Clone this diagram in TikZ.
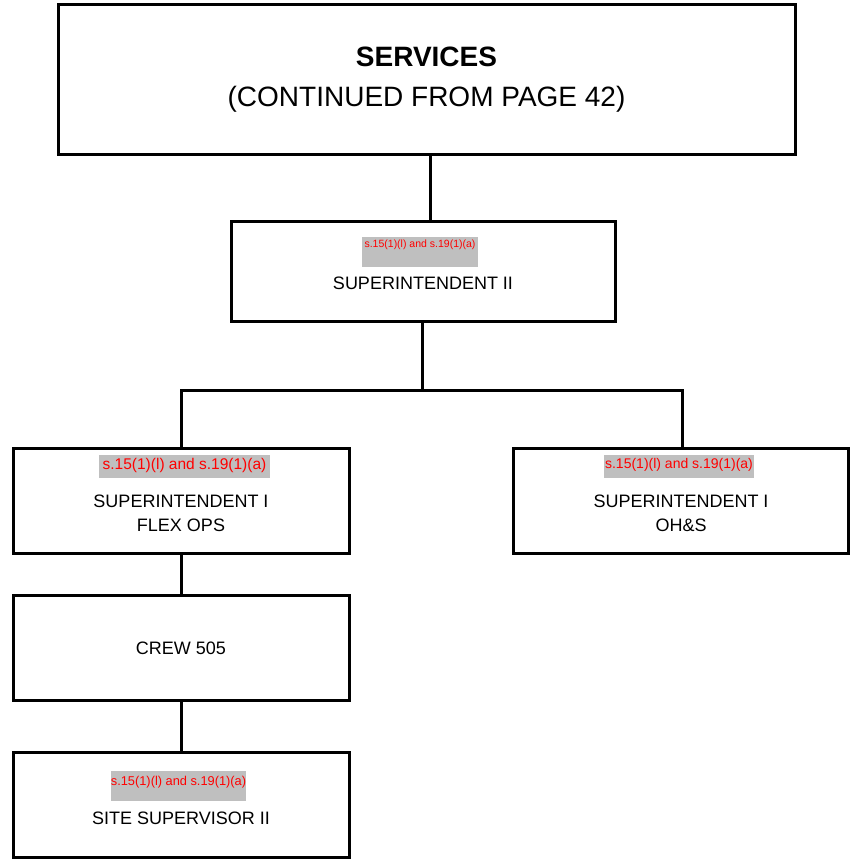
\documentclass[tikz,border=0pt]{standalone}
\usepackage{fontspec}
\setmainfont{Liberation Sans}
\begin{document}
\begin{tikzpicture}[x=1pt,y=-1pt,
  boxst/.style={draw=black, line width=3pt},
  conn/.style={draw=black, line width=3pt},
  lbl/.style={font=\fontsize{18}{24}\selectfont, align=center, inner sep=0pt},
  redbg/.style={fill=black!25, inner sep=0pt},
  redtx/.style={text=red, inner sep=0pt}]
\useasboundingbox (0,0) rectangle (849,861);
% boxes
\draw[boxst] (58,5) rectangle (795,155);
\node[lbl, font=\fontsize{28}{40}\selectfont] (title) at (426.5,80) {\textbf{SERVICES}\\(CONTINUED FROM PAGE 42)};
\coordinate (topB) at (430,155);

\draw[boxst] (231,221) rectangle (615,321);
\coordinate (s2T) at (430,221);
\coordinate (s2B) at (422,321);
\node[redbg, minimum width=116pt, minimum height=30pt, anchor=north] (r1) at (420,237) {};
\node[redtx, font=\fontsize{10.5}{11}\selectfont] (r1t) at (420,245) {s.15(1)(l) and s.19(1)(a)};
\node[lbl] (s2) at (423,283) {SUPERINTENDENT II};

\draw[boxst] (13,448) rectangle (349,553);
\coordinate (l1T) at (181,448);
\coordinate (l1B) at (181,553);
\node[redbg, minimum width=171pt, minimum height=23pt, anchor=north] (r2) at (184.5,455) {};
\node[redtx, font=\fontsize{15.5}{16}\selectfont] (r2t) at (184.5,465) {s.15(1)(l) and s.19(1)(a)};
\node[lbl] (l1) at (181,513) {SUPERINTENDENT I\\FLEX OPS};

\draw[boxst] (513,448) rectangle (848,553);
\coordinate (r1T) at (682,448);
\node[redbg, minimum width=150pt, minimum height=23pt, anchor=north] (r3) at (679,455) {};
\node[redtx, font=\fontsize{14}{15}\selectfont] (r3t) at (679,465) {s.15(1)(l) and s.19(1)(a)};
\node[lbl] (rr) at (681,513) {SUPERINTENDENT I\\OH\&S};

\draw[boxst] (13,595) rectangle (349,700);
\coordinate (cT) at (181,595);
\coordinate (cB) at (181,700);
\node[lbl] (crew) at (181,648) {CREW 505};

\draw[boxst] (13,752) rectangle (349,857);
\coordinate (sT) at (181,752);
\node[redbg, minimum width=135pt, minimum height=30pt, anchor=north] (r4) at (178.5,771) {};
\node[redtx, font=\fontsize{12.8}{13}\selectfont] (r4t) at (178.5,782) {s.15(1)(l) and s.19(1)(a)};
\node[lbl] (site) at (181,818) {SITE SUPERVISOR II};

% connectors
\coordinate (bus) at (422,390);
\coordinate (busL) at (181,390);
\coordinate (busR) at (682,390);
\draw[conn] (topB) -- (s2T);
\draw[conn] (s2B) -- (bus);
\draw[conn, line cap=rect] (busL) -- (busR);
\draw[conn] (busL) -- (l1T);
\draw[conn] (busR) -- (r1T);
\draw[conn] (l1B) -- (cT);
\draw[conn] (cB) -- (sT);
\end{tikzpicture}
\end{document}
